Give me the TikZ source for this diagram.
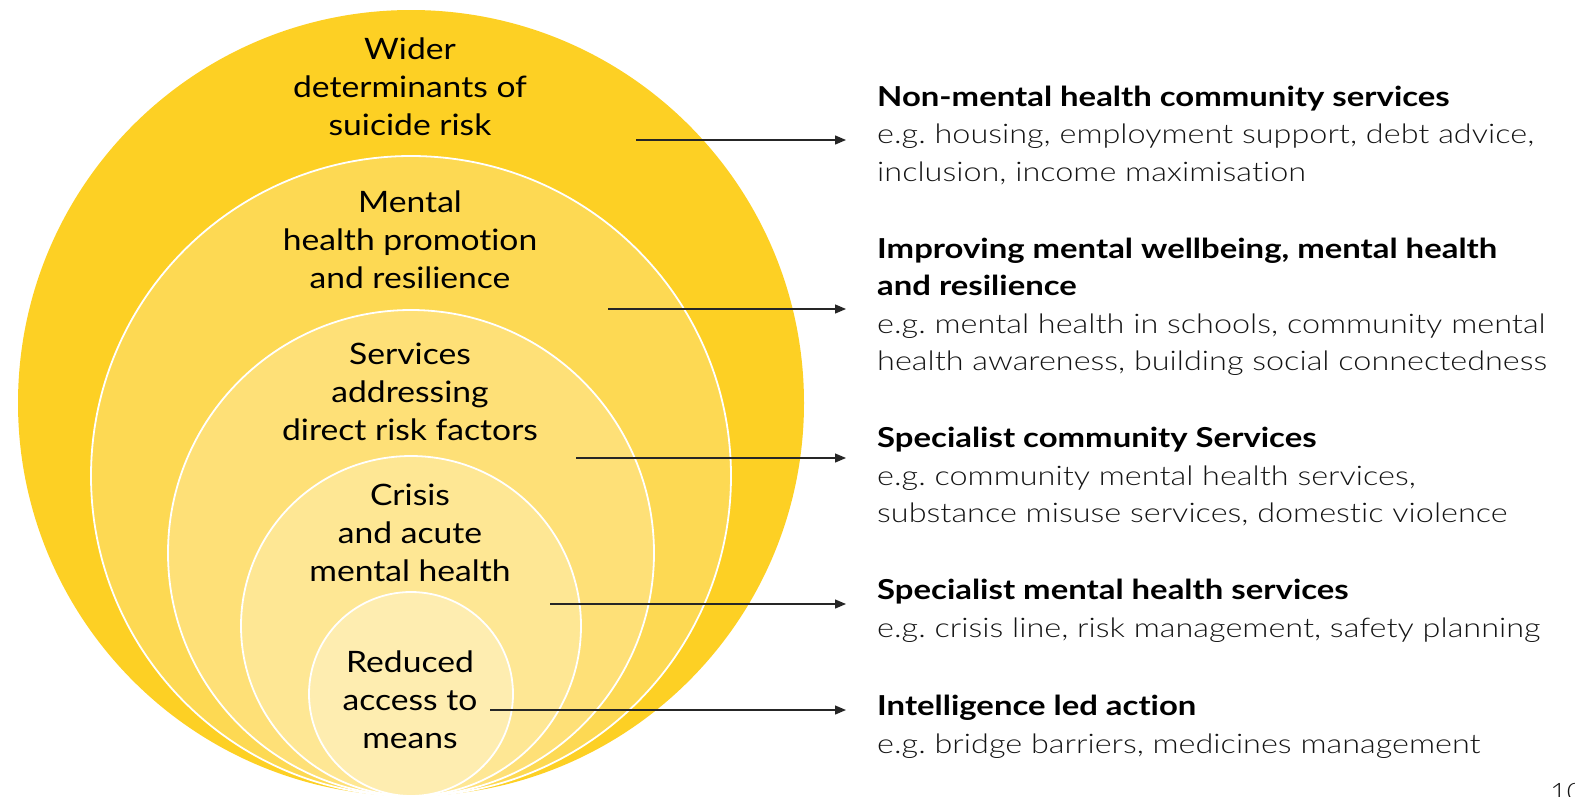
\documentclass[tikz,border=0pt]{standalone}
\usepackage{fontspec}
\setmainfont{Lato}[Ligatures=NoCommon]
\newfontfamily\labelfont{Lato}[Ligatures=NoCommon,FakeStretch=1.14]
\newfontfamily\headfont{Lato Bold}[Ligatures=NoCommon,FakeStretch=1.195]
\newfontfamily\lightfont{Lato Light}[Ligatures=NoCommon,FakeStretch=1.2]
\usetikzlibrary{arrows.meta}
\definecolor{yA}{HTML}{FDD024}
\definecolor{yB}{HTML}{FDD953}
\definecolor{yC}{HTML}{FEE077}
\definecolor{yD}{HTML}{FEE794}
\definecolor{yE}{HTML}{FEEDB0}
\tikzset{
  ring/.style={draw=white,line width=1.8pt},
  clabel/.style={align=center,font=\labelfont\fontsize{29.5}{38}\selectfont,inner sep=0pt,anchor=north},
  head/.style={align=left,font=\headfont\fontsize{27.5}{37}\selectfont,inner sep=0pt,anchor=north west},
  body/.style={align=left,font=\lightfont\fontsize{27}{37.3}\selectfont,inner sep=0pt,anchor=north west,text=black!92},
  pointer/.style={draw=black!85,line width=1.3pt,-{Triangle[length=11pt,width=9pt]}}
}
\frenchspacing
\begin{document}
\begin{tikzpicture}[x=1pt,y=-1pt]
\useasboundingbox (0,0) rectangle (1575,796);
\fill[yA] (411,403) circle[radius=393pt];
\filldraw[fill=yB,ring] (411,476) circle[radius=320pt];
\filldraw[fill=yC,ring] (411,553) circle[radius=243pt];
\filldraw[fill=yD,ring] (411,626) circle[radius=170pt];
\filldraw[fill=yE,ring] (411,694) circle[radius=102pt];

\node[clabel] (l1) at (410,38) {Wider\\determinants of\\suicide risk};
\node[clabel] (l2) at (410,191) {Mental\\health promotion\\and resilience};
\node[clabel] (l3) at (410,343) {Services\\addressing\\direct risk factors};
\node[clabel] (l4) at (410,484) {Crisis\\and acute\\mental health};
\node[clabel] (l5) at (410,651) {Reduced\\access to\\means};

\node[head] (h1) at (877,86) {Non-mental health community services};
\node[body] (b1) at (877,124) {e.g. housing, employment support, debt advice,\\inclusion, income maximisation};
\node[head] (h2) at (877,238) {Improving mental wellbeing, mental health\\and resilience};
\node[body] (b2) at (877,313.5) {e.g. mental health in schools, community mental\\health awareness, building social connectedness};
\node[head] (h3) at (877,427) {Specialist community Services};
\node[body] (b3) at (877,465.5) {e.g. community mental health services,\\substance misuse services, domestic violence};
\node[head] (h4) at (877,579) {Specialist mental health services};
\node[body] (b4) at (877,617.5) {e.g. crisis line, risk management, safety planning};
\node[head] (h5) at (877,695) {Intelligence led action};
\node[body] (b5) at (877,733.5) {e.g. bridge barriers, medicines management};

\node[body,font=\lightfont\fontsize{24}{24}\selectfont] (pg) at (1550,783) {10};

\coordinate (s1) at (636,140); \coordinate (e1) at (846,140);
\coordinate (s2) at (608,309); \coordinate (e2) at (846,309);
\coordinate (s3) at (576,458); \coordinate (e3) at (846,458);
\coordinate (s4) at (550,604); \coordinate (e4) at (846,604);
\coordinate (s5) at (490,710); \coordinate (e5) at (846,710);
\draw[pointer] (s1) -- (e1);
\draw[pointer] (s2) -- (e2);
\draw[pointer] (s3) -- (e3);
\draw[pointer] (s4) -- (e4);
\draw[pointer] (s5) -- (e5);
\end{tikzpicture}
\end{document}
